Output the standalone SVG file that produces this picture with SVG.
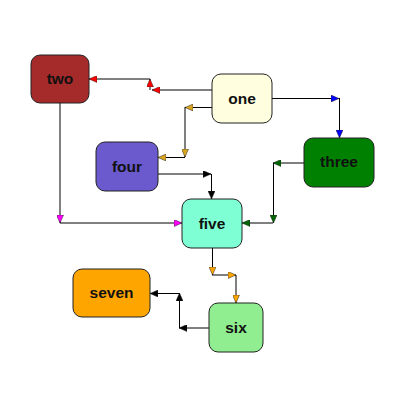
<svg xmlns="http://www.w3.org/2000/svg" width="400" height="400" viewBox="0 0 400 400">
<style>
.node rect{stroke:#222;stroke-width:1}
.node text{font-family:"Liberation Sans",Arial,sans-serif;font-weight:bold;font-size:15.5px;fill:#111;text-anchor:middle}
.edge path{fill:none;stroke:#000;stroke-width:1}
</style>
<defs>
<marker id="ar" viewBox="0 0 8 7" refX="8" refY="3.5" markerWidth="8" markerHeight="7" markerUnits="userSpaceOnUse" orient="auto"><path d="M0,0 L8,3.5 L0,7 z" fill="#ff0000" stroke="#222" stroke-width="0.5"/></marker>
<marker id="ag" viewBox="0 0 8 7" refX="8" refY="3.5" markerWidth="8" markerHeight="7" markerUnits="userSpaceOnUse" orient="auto"><path d="M0,0 L8,3.5 L0,7 z" fill="#daa520" stroke="#222" stroke-width="0.5"/></marker>
<marker id="ab" viewBox="0 0 8 7" refX="8" refY="3.5" markerWidth="8" markerHeight="7" markerUnits="userSpaceOnUse" orient="auto"><path d="M0,0 L8,3.5 L0,7 z" fill="#0000ff" stroke="#222" stroke-width="0.5"/></marker>
<marker id="am" viewBox="0 0 8 7" refX="8" refY="3.5" markerWidth="8" markerHeight="7" markerUnits="userSpaceOnUse" orient="auto"><path d="M0,0 L8,3.5 L0,7 z" fill="#ff00ff" stroke="#222" stroke-width="0.5"/></marker>
<marker id="ak" viewBox="0 0 8 7" refX="8" refY="3.5" markerWidth="8" markerHeight="7" markerUnits="userSpaceOnUse" orient="auto"><path d="M0,0 L8,3.5 L0,7 z" fill="#000" stroke="#222" stroke-width="0.5"/></marker>
<marker id="an" viewBox="0 0 8 7" refX="8" refY="3.5" markerWidth="8" markerHeight="7" markerUnits="userSpaceOnUse" orient="auto"><path d="M0,0 L8,3.5 L0,7 z" fill="#006400" stroke="#222" stroke-width="0.5"/></marker>
<marker id="ao" viewBox="0 0 8 7" refX="8" refY="3.5" markerWidth="8" markerHeight="7" markerUnits="userSpaceOnUse" orient="auto"><path d="M0,0 L8,3.5 L0,7 z" fill="#ffa500" stroke="#222" stroke-width="0.5"/></marker>
</defs>
<g id="connectors" class="edge">
<g id="e-one-two">
<path d="M212,90 H152" marker-end="url(#ar)"/>
<path d="M150,90 V79" marker-end="url(#ar)"/>
<path d="M150,79 H89" marker-end="url(#ar)"/>
</g>
<g id="e-one-four">
<path d="M212,107.5 H185" marker-end="url(#ag)"/>
<path d="M185,107 V157" marker-end="url(#ag)"/>
<path d="M185,157.5 H158" marker-end="url(#ag)"/>
</g>
<g id="e-one-three">
<path d="M272,98.5 H339" marker-end="url(#ab)"/>
<path d="M339.5,98 V138" marker-end="url(#ab)"/>
</g>
<g id="e-two-five">
<path d="M60,103 V223" marker-end="url(#am)"/>
<path d="M60,223 H182" marker-end="url(#am)"/>
</g>
<g id="e-four-five">
<path d="M158,174 H211" marker-end="url(#ak)"/>
<path d="M211.5,174 V199" marker-end="url(#ak)"/>
</g>
<g id="e-three-five">
<path d="M304,163 H273" marker-end="url(#an)"/>
<path d="M273.5,163 V223" marker-end="url(#an)"/>
<path d="M273,223 H242" marker-end="url(#an)"/>
</g>
<g id="e-five-six">
<path d="M212.5,248 V275" marker-end="url(#ao)"/>
<path d="M212,275 H236" marker-end="url(#ao)"/>
<path d="M236,275 V303" marker-end="url(#ao)"/>
</g>
<g id="e-six-seven">
<path d="M209,328 H179" marker-end="url(#ak)"/>
<path d="M179.5,328 V293" marker-end="url(#ak)"/>
<path d="M179,293.5 H150" marker-end="url(#ak)"/>
</g>
</g>
<g id="two" class="node"><rect x="31" y="55" width="58" height="48" rx="9" fill="#a52a2a"/><text x="60" y="84">two</text></g>
<g id="one" class="node"><rect x="212" y="74" width="60" height="49" rx="9" fill="#ffffe0"/><text x="242" y="103.5">one</text></g>
<g id="four" class="node"><rect x="96" y="142" width="62" height="49" rx="9" fill="#6a5acd"/><text x="127" y="171.5">four</text></g>
<g id="three" class="node"><rect x="304" y="138" width="70" height="49" rx="9" fill="#008000"/><text x="339" y="167">three</text></g>
<g id="five" class="node"><rect x="182" y="199" width="60" height="49" rx="9" fill="#7fffd4"/><text x="212" y="228.5">five</text></g>
<g id="seven" class="node"><rect x="73" y="269" width="77" height="48" rx="9" fill="#ffa500"/><text x="111.5" y="298">seven</text></g>
<g id="six" class="node"><rect x="209" y="303" width="54" height="49" rx="9" fill="#90ee90"/><text x="236" y="333">six</text></g>
</svg>
